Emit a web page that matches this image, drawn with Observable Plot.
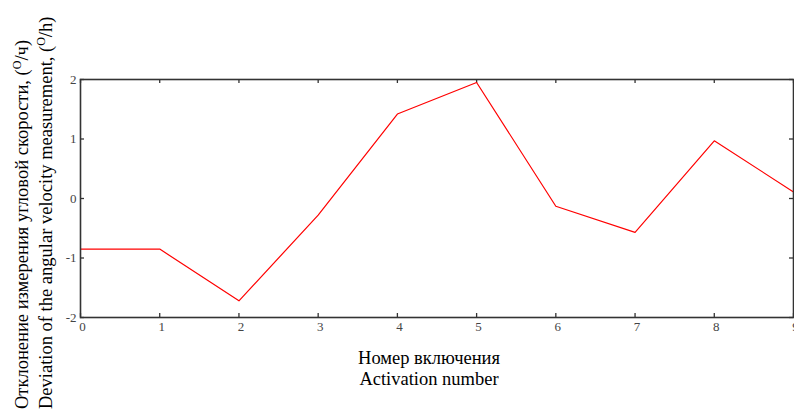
<!DOCTYPE html>
<html>
<head>
<meta charset="utf-8">
<script src="https://cdn.jsdelivr.net/npm/d3@7"></script>
<script src="https://cdn.jsdelivr.net/npm/@observablehq/plot@0.6"></script>
<style>
  html, body { margin: 0; padding: 0; background: #fff; }
  #chart svg { display: block; }
</style>
</head>
<body>
<div id="chart"></div>
<script>
const activation = [0, 1, 2, 3, 4, 5, 6, 7, 8, 9];
const deviation = [-0.85, -0.85, -1.72, -0.28, 1.42, 1.95, -0.13, -0.57, 0.97, 0.11];
const xTicks = [0, 1, 2, 3, 4, 5, 6, 7, 8, 9];
const yTicks = [-2, -1, 0, 1, 2];
const xLabelLines = ["Номер включения", "Activation number"];
const yLabelLines = [
  ["Отклонение измерения угловой скорости, (", "O", "/ч)"],
  ["Deviation of the angular velocity measurement, (", "O", "/h)"]
];

const data = activation.map((a, i) => ({x: a, y: deviation[i]}));

const W = 794, H = 414;
const mL = 80, mR = 1, mT = 79, mB = 97;
const innerW = W - mL - mR, innerH = H - mT - mB;
const font = "'Liberation Serif', 'Times New Roman', serif";
const axisColor = "#333";
const tick = 4;

const svg = Plot.plot({
  width: W,
  height: H,
  marginLeft: mL,
  marginRight: mR,
  marginTop: mT,
  marginBottom: mB,
  style: {fontFamily: font, background: "#fff"},
  x: {domain: [0, 9], label: null},
  y: {domain: [-2, 2], label: null},
  marks: [
    // inward ticks on all four sides
    Plot.gridX(xTicks, {stroke: axisColor, strokeOpacity: 1, strokeWidth: 1.3, insetTop: innerH - tick}),
    Plot.gridX(xTicks, {stroke: axisColor, strokeOpacity: 1, strokeWidth: 1.3, insetBottom: innerH - tick}),
    Plot.gridY(yTicks, {stroke: axisColor, strokeOpacity: 1, strokeWidth: 1.3, insetRight: innerW - tick}),
    Plot.gridY(yTicks, {stroke: axisColor, strokeOpacity: 1, strokeWidth: 1.3, insetLeft: innerW - tick}),
    Plot.axisX(xTicks, {anchor: "bottom", tickSize: 0, tickPadding: 4, fontSize: 13, fill: "#444", dx: 2, label: null, tickFormat: d => String(d)}),
    Plot.axisY(yTicks, {anchor: "left", tickSize: 0, tickPadding: 4, fontSize: 13, fill: "#444", label: null, tickFormat: d => String(d)}),
    Plot.line(data, {x: "x", y: "y", stroke: "#ff0000", strokeWidth: 1.2}),
    Plot.frame({stroke: axisColor, strokeWidth: 1.6})
  ]
});

const s = d3.select(svg);
// x-axis title (two lines)
xLabelLines.forEach((t, i) => {
  s.append("text")
    .attr("x", 429)
    .attr("y", 364 + i * 21)
    .attr("text-anchor", "middle")
    .attr("font-family", font)
    .attr("font-size", 18.5)
    .attr("fill", "#000")
    .text(t);
});
// y-axis title (two rotated lines)
yLabelLines.forEach((parts, i) => {
  const x = 28 + i * 24;
  const tx = s.append("text")
    .attr("transform", `translate(${x},409) rotate(-90)`)
    .attr("text-anchor", "start")
    .attr("font-family", font)
    .attr("font-size", 18.5)
    .attr("fill", "#000");
  tx.append("tspan").text(parts[0]);
  tx.append("tspan").attr("font-size", 12).attr("dy", -7).text(parts[1]);
  tx.append("tspan").attr("dy", 7).text(parts[2]);
});

document.getElementById("chart").appendChild(svg);
</script>
</body>
</html>
